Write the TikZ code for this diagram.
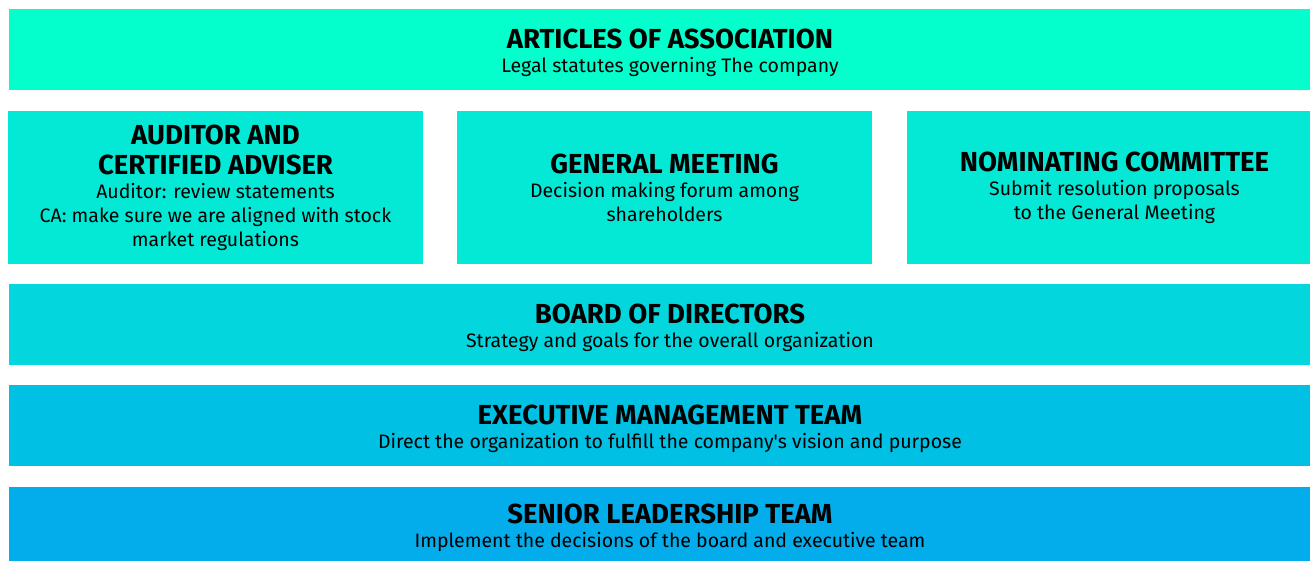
\documentclass[tikz,border=0pt]{standalone}
\usepackage{fontspec}
\setmainfont{Fira Sans}
\usepackage{tikz}

\definecolor{tierA}{HTML}{05FFCC}
\definecolor{tierB}{HTML}{04E8D6}
\definecolor{tierC}{HTML}{03D6DD}
\definecolor{tierD}{HTML}{00C0E3}
\definecolor{tierE}{HTML}{03ACEA}

\newcommand{\ttl}[1]{{\fontsize{27.5}{30}\selectfont\bfseries #1}}

\begin{document}
\begin{tikzpicture}[x=1pt,y=-1pt,
        blocktext/.style={inner sep=0pt, align=center,
            font=\fontsize{19.5}{24}\selectfont},
        block/.style={rectangle, inner sep=0pt, blocktext},
        band/.style={rectangle, inner sep=0pt, minimum width=1322pt, minimum height=81pt,
            label={[blocktext, yshift=-3.5pt]center:#1}},
        tile/.style={block, minimum width=415pt, minimum height=153pt, fill=tierB}]
        \clip (0,0) rectangle (1310,561);

        % Top band
        \node[band={\ttl{ARTICLES OF ASSOCIATION}\\ Legal statutes governing The company},
            fill=tierA] (articles) at (670,49.5) {};

        % Three boxes in the middle row
        \node[tile] (auditor) at (215.5,187.5)
            {\ttl{AUDITOR AND}\\[6pt] \ttl{CERTIFIED ADVISER}\\ Auditor: review statements\\
             CA: make sure we are aligned with stock\\ market regulations};
        \node[tile] (meeting) at (664.5,187.5)
            {\ttl{GENERAL MEETING}\\ Decision making forum among\\ shareholders};
        \node[tile] (nominating) at (1114.5,187.5)
            {\ttl{NOMINATING COMMITTEE}\\ Submit resolution proposals\\ to the General Meeting};

        % Lower bands
        \node[band={\ttl{BOARD OF DIRECTORS}\\ Strategy and goals for the overall organization},
            fill=tierC] (board) at (670,324.5) {};
        \node[band={\ttl{EXECUTIVE MANAGEMENT TEAM}\\ Direct the organization to fulfill the company\textquotesingle s vision and purpose},
            fill=tierD] (exec) at (670,425.5) {};
        \node[band={\ttl{SENIOR LEADERSHIP TEAM}\\ Implement the decisions of the board and executive team},
            fill=tierE, minimum height=74pt] (senior) at (670,524) {};
    \end{tikzpicture}
\end{document}
